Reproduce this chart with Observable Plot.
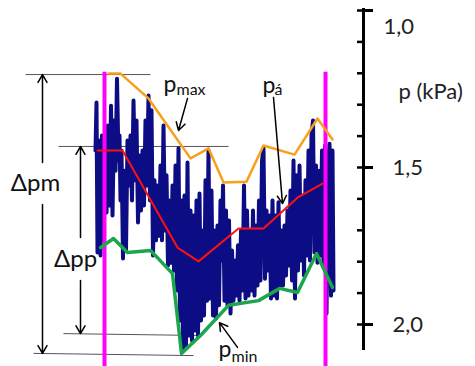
<!DOCTYPE html>
<html><head><meta charset="utf-8">
<script src="https://cdn.jsdelivr.net/npm/d3@7"></script>
<script src="https://cdn.jsdelivr.net/npm/@observablehq/plot@0.6"></script>
<style>body{margin:0;background:#fff} #chart svg{display:block}</style>
</head><body><div id="chart"></div>
<script>
// time axis (arbitrary units), pressure in kPa
const sigT = [95,96,97,98.5,100,101.5,103,104.5,106,107.5,109,110.5,112,113.5,115,116.5,118,119,120,121,122.5,124,125.5,127,128.5,130,131.5,133,134.5,136,137.5,139,140.5,142,143.5,145,146.5,148,149.5,151,152.5,154,155.5,157,158.5,160,161.5,163,164.5,166,167.5,169,170.5,172,173.5,175,176.5,178,179.5,181,182.5,184,185.5,187,188.5,190,191.5,193,194.5,196,197.5,199,200.5,202,203.5,205,206.5,208,209.5,211,212.5,214,215.5,217,218.5,220,221.5,222.5,224,225.5,227,228.5,230,231.5,233,234.5,236,237.5,239,240.5,242,243.5,245,246.5,248,249.5,251,252.5,254,255.5,257,258.5,260,261.5,263,264.5,266,267.5,269,270.5,272,273.5,275,276.5,278,279.5,281,282.5,284,285.5,287,288.5,290,291.5,293,294.5,296,297.5,299,300.5,302,303.5,305,306.5,308,309.5,311,312.5,314,315.5,317,318.5,320,321.5,323,324.5,326,327.5,329,330.5,332,333];
const sigP = [1.446,1.293,1.771,1.414,1.780,1.398,1.732,1.446,1.643,1.366,1.621,1.303,1.653,1.350,1.510,1.217,1.478,1.398,1.605,1.446,1.790,1.510,1.764,1.414,1.557,1.398,1.605,1.287,1.541,1.350,1.675,1.462,1.637,1.446,1.621,1.350,1.557,1.271,1.605,1.318,1.780,1.541,1.732,1.557,1.717,1.494,1.732,1.366,1.701,1.525,1.812,1.605,1.803,1.557,1.828,1.494,1.892,1.439,1.987,1.605,2.083,1.589,2.067,1.484,2.035,1.637,2.051,1.653,2.019,1.605,2.035,1.583,1.987,1.701,1.971,1.541,1.924,1.446,1.917,1.573,1.971,1.701,1.981,1.685,1.939,1.605,1.796,1.557,1.924,1.637,1.939,1.669,1.965,1.764,1.924,1.796,1.908,1.748,1.924,1.701,1.892,1.557,1.917,1.637,1.908,1.701,1.892,1.637,1.908,1.685,1.876,1.605,1.860,1.478,1.439,1.854,1.637,1.828,1.653,1.917,1.605,1.908,1.653,1.917,1.611,1.876,1.701,1.876,1.685,1.844,1.637,1.812,1.573,1.860,1.478,1.917,1.525,1.828,1.494,1.796,1.589,1.844,1.541,1.780,1.446,1.796,1.398,1.350,1.771,1.494,1.803,1.510,1.780,1.446,1.812,1.430,1.965,1.510,1.424,1.908,1.446,1.892];

const maxT = [108,120,148,190,208,223,246,263,294,317,332];
const maxP = [1.201,1.201,1.280,1.471,1.439,1.548,1.545,1.430,1.459,1.344,1.411];
const meanT = [97,122,177,198,238,263,297,322];
const meanP = [1.446,1.446,1.755,1.799,1.694,1.694,1.596,1.551];
const minT = [100,113,127,150,172,181,200,228,258,279,297,316,332];
const minP = [1.755,1.726,1.771,1.764,1.838,2.092,2.035,1.939,1.924,1.885,1.898,1.774,1.882];

const cycleT = [104,325];             // cycle boundaries (magenta)
const majorTicks = [1.0,1.5,2.0];
const majorLabels = ["1,0","1,5","2,0"];
const minorTicks = [1.0,1.1,1.2,1.3,1.4,1.5,1.6,1.7,1.8,1.9,2.0];

// reference levels (thin lines)
const refX1 = [25,58,63,33], refX2 = [150,228,200,193];
const refY1 = [1.204,1.433,2.029,2.092], refY2 = [1.204,1.433,2.035,2.099];

// annotation arrows
const arrows = [
  {x1:42,y1:1.484,x2:42,y2:1.204},
  {x1:42,y1:1.618,x2:42,y2:2.092},
  {x1:80,y1:1.723,x2:80,y2:1.433},
  {x1:80,y1:1.860,x2:80,y2:2.029},
  {x1:187,y1:1.280,x2:178,y2:1.382},
  {x1:273,y1:1.277,x2:282,y2:1.615},
  {x1:237,y1:2.073,x2:219,y2:1.994}
];
const bigLabels = [{x:35,y:1.551,s:"Δpm"},{x:75,y:1.793,s:"Δpp"}];
const pLabels = [{x:163,y:1.261,s:"p"},{x:262,y:1.264,s:"p"},{x:218,y:2.105,s:"p"}];
const subLabels = [{x:176,y:1.268,s:"max"},{x:274,y:1.268,s:"á"},{x:231,y:2.121,s:"min"}];

const zip = (T,P) => T.map((t,i)=>({t, p:P[i]}));
const signal = zip(sigT,sigP), pmax = zip(maxT,maxP), pmean = zip(meanT,meanP), pmin = zip(minT,minP);
const refs = refX1.map((x,i)=>({x1:x,x2:refX2[i],y1:refY1[i],y2:refY2[i]}));
const fmtLabel = d => majorLabels[majorTicks.indexOf(d)];
const FONT = "Lato, 'Open Sans', sans-serif";
const xMax = 363;

const chart = Plot.plot({
  width: 475, height: 366,
  marginLeft: 0, marginRight: 112, marginTop: 10, marginBottom: 42,
  x: {domain: [0, xMax], axis: null},
  y: {domain: [2, 1]},
  style: {fontFamily: FONT, background: "#fff", color: "#000"},
  marks: [
    Plot.link(refs, {x1:"x1", y1:"y1", x2:"x2", y2:"y2", stroke:"#555", strokeWidth:1}),
    Plot.line(signal, {x:"t", y:"p", stroke:"#0c0c84", strokeWidth:4, strokeLinejoin:"round"}),
    Plot.ruleX(cycleT, {y1:1.197, y2:2.14, stroke:"#ff00ff", strokeWidth:4}),
    Plot.line(pmax, {x:"t", y:"p", stroke:"#f9a01b", strokeWidth:2.5}),
    Plot.line(pmean, {x:"t", y:"p", stroke:"#ff1010", strokeWidth:2}),
    Plot.line(pmin, {x:"t", y:"p", stroke:"#1ba64b", strokeWidth:3.5}),
    Plot.arrow(arrows, {x1:"x1", y1:"y1", x2:"x2", y2:"y2", stroke:"#000", strokeWidth:1.5, headLength:9}),
    Plot.text(bigLabels, {x:"x", y:"y", text:"s", fontSize:24, textAnchor:"middle", fill:"#111"}),
    Plot.text(pLabels, {x:"x", y:"y", text:"s", fontSize:23, textAnchor:"start", lineAnchor:"bottom", fill:"#111"}),
    Plot.text(subLabels, {x:"x", y:"y", text:"s", fontSize:16, textAnchor:"start", lineAnchor:"bottom", fill:"#111"}),
    // axis
    Plot.ruleX([xMax], {y1:0.994, y2:2.083, stroke:"#000", strokeWidth:3}),
    Plot.axisY({anchor:"right", ticks:minorTicks, tickSize:7, dx:-7, tickFormat:()=>"", strokeWidth:2.5, label:null}),
    Plot.axisY({anchor:"right", ticks:majorTicks, tickSize:9, tickFormat:()=>"", strokeWidth:3, label:null}),
    Plot.text(majorTicks.slice(1), {y:d=>d, frameAnchor:"right", dx:29, text:fmtLabel, textAnchor:"start", fontSize:22, fill:"#222"}),
    Plot.text(majorTicks.slice(0,1), {y:d=>d, frameAnchor:"right", dx:20, dy:16, text:fmtLabel, textAnchor:"start", fontSize:22, fill:"#222"}),
    Plot.text(["p (kPa)"], {y:1.283, frameAnchor:"right", dx:35, text:d=>d, textAnchor:"start", lineAnchor:"bottom", fontSize:22, fill:"#222"})
  ]
});
document.getElementById("chart").append(chart);
</script></body></html>
